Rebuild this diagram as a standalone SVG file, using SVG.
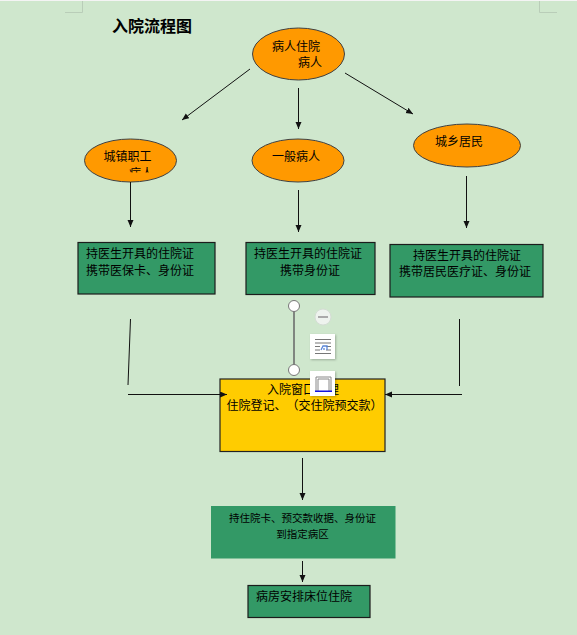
<svg xmlns="http://www.w3.org/2000/svg" width="577" height="635" viewBox="0 0 577 635">
<style>
text{font-family:"Noto Sans CJK SC","Liberation Sans",sans-serif;fill:#000;text-anchor:middle;text-spacing-trim:space-all}
.t12{font-size:12px}
.t10{font-size:10.500px}
.el{fill:#ff9900;stroke:#404040;stroke-width:1}
.gb{fill:#339966;stroke:#1c1c1c;stroke-width:1.200}
.cn{stroke:#111;stroke-width:1;fill:none}
.ar{marker-end:url(#arrow)}
.crop{stroke:#b9cdb8;stroke-width:1;fill:none}
.hd{fill:#fff;stroke:#777;stroke-width:1}
.ic{fill:#fff;filter:url(#sh)}
</style>
<defs>
<marker id="arrow" markerUnits="userSpaceOnUse" markerWidth="8" markerHeight="8" refX="7" refY="3" orient="auto"><path d="M0,0 L7,3 L0,6 Z" fill="#111"/></marker>
<clipPath id="clipL"><rect x="84" y="139" width="93" height="33.500"/></clipPath>
<filter id="sh" x="-20%" y="-20%" width="150%" height="150%"><feDropShadow dx="1" dy="1" stdDeviation="1" flood-color="#000" flood-opacity=".25"/></filter>
</defs>
<rect width="577" height="635" fill="#cfe7cd"/>
<rect width="577" height="1" fill="#f4f4f4"/>
<path class="crop" d="M82.500,1V12.500H65M539.500,1V12.500H557"/>
<text id="title" x="152" y="32" style="font-size:16px;font-weight:700">入院流程图</text>
<g id="node-top"><ellipse class="el" cx="298.500" cy="54" rx="46" ry="26"/><text class="t12" x="296" y="51">病人住院</text><text class="t12" x="310" y="67">病人</text></g>
<g id="node-urban"><ellipse class="el" cx="130.500" cy="160.500" rx="46" ry="21.500"/><text class="t12" x="127.500" y="161">城镇职工</text><text class="t12" x="141" y="178" clip-path="url(#clipL)">病人</text></g>
<g id="node-general"><ellipse class="el" cx="298" cy="160.500" rx="46" ry="21.500"/><text class="t12" x="296" y="161">一般病人</text></g>
<g id="node-rural"><ellipse class="el" cx="467" cy="145.500" rx="53.500" ry="21.500"/><text class="t12" x="459" y="146">城乡居民</text></g>
<g id="box-urban"><rect class="gb" x="78" y="242.500" width="137" height="51.500"/><text class="t12" x="140" y="258">持医生开具的住院证</text><text class="t12" x="140" y="275">携带医保卡、身份证</text></g>
<g id="box-general"><rect class="gb" x="246" y="242.500" width="129" height="52"/><text class="t12" x="308" y="258">持医生开具的住院证</text><text class="t12" x="310" y="275">携带身份证</text></g>
<g id="box-rural"><rect class="gb" x="390" y="244.500" width="153" height="52.500"/><text class="t12" x="467" y="260">持医生开具的住院证</text><text class="t12" x="465" y="276">携带居民医疗证、身份证</text></g>
<g id="node-window"><rect x="220" y="379" width="165" height="72.500" fill="#ffcc00" stroke="#222" stroke-width="1.200"/><text class="t12" x="303" y="394">入院窗口办理</text><text class="t12" x="304.500" y="410">住院登记、（交住院预交款）</text></g>
<g id="node-ward"><rect x="211" y="506" width="184.500" height="52.500" fill="#339966"/><text class="t10" x="302.500" y="522">持住院卡、预交款收据、身份证</text><text class="t10" x="302.500" y="538">到指定病区</text></g>
<g id="node-bed"><rect class="gb" x="248" y="585.500" width="122" height="32"/><text class="t12" x="304" y="601">病房安排床位住院</text></g>
<g id="connectors">
<line class="cn ar" x1="250" y1="69" x2="182" y2="120"/>
<line class="cn ar" x1="298.500" y1="88" x2="298.500" y2="129"/>
<line class="cn ar" x1="345" y1="73" x2="413" y2="114"/>
<line class="cn ar" x1="130.500" y1="182" x2="130.500" y2="227"/>
<line class="cn ar" x1="298.500" y1="190" x2="298.500" y2="232"/>
<line class="cn ar" x1="466.500" y1="176" x2="466.500" y2="228"/>
<line class="cn" x1="130.500" y1="319" x2="128" y2="385"/>
<line class="cn ar" x1="128" y1="394.500" x2="227" y2="394.500"/>
<line class="cn" x1="459.500" y1="319" x2="459.500" y2="386"/>
<line class="cn ar" x1="462" y1="394.500" x2="385" y2="394.500"/>
<line x1="294" y1="306" x2="294" y2="370" stroke="#666" stroke-width="1.500"/>
<line class="cn ar" x1="302.500" y1="458" x2="302.500" y2="500"/>
<line class="cn ar" x1="302.500" y1="561" x2="302.500" y2="582"/>
</g>
<g id="handles">
<circle class="hd" cx="294" cy="306" r="5.500"/>
<circle class="hd" cx="294" cy="370" r="5.500"/>
<circle cx="323" cy="317" r="8" fill="#eef3ee" stroke="#d4ddd4"/>
<rect x="318" y="316" width="10" height="2" fill="#aaa"/>
<rect class="ic" x="310" y="334" width="25" height="25"/>
<path d="M315,339.500H331M315,343H331M315,346.500H320M326,346.500H331M315,350H320M326,350H331M315,353.500H331" stroke="#777" stroke-width="1" fill="none"/>
<path d="M321,350L323,346H327V350M324,348V350" stroke="#5b86d8" stroke-width="1.300" fill="none"/>
<rect class="ic" x="310" y="371" width="25" height="25"/>
<path d="M316,391V377H331V391M318,391V379H329V391" stroke="#888" stroke-width="1" fill="none"/>
<rect x="315" y="390.500" width="17" height="1.500" fill="#1414e0"/>
</g>
</svg>
